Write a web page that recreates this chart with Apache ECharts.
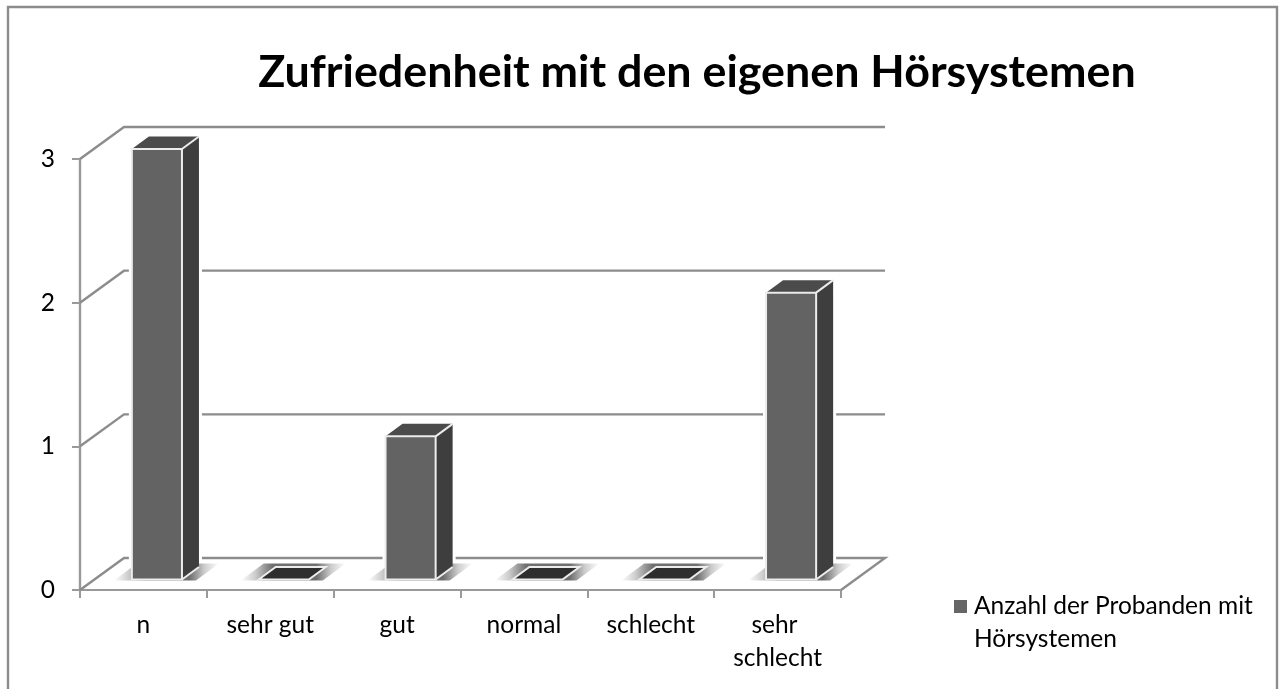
<!DOCTYPE html>
<html><head><meta charset="utf-8">
<style>html,body{margin:0;padding:0;background:#fff}#c{width:1280px;height:689px}</style>
<script src="https://cdn.jsdelivr.net/npm/echarts@6/dist/echarts.min.js"></script>
</head><body><div id="c"></div>
<script>
const chartTitle = 'Zufriedenheit mit den eigenen Hörsystemen';
const categories = ['n', 'sehr gut', 'gut', 'normal', 'schlecht', 'sehr schlecht'];
const seriesName = 'Anzahl der Probanden mit Hörsystemen';
const values = [3, 0, 1, 0, 0, 2];
const yTicks = [0, 1, 2, 3];

const FONT = 'Lato, Carlito, sans-serif';
const WALL_DX = 44, WALL_DY = -32;
const BAR_DX = 13.5, BAR_DY = -10.5, SIDE_DX = 17, SIDE_DY = -12.5;
const chart = echarts.init(document.getElementById('c'));

function renderWall(params, api) {
  const v = api.value(0);
  const cs = params.coordSys;
  const p = api.coord([0, v]);
  const x0 = cs.x, x1 = cs.x + cs.width, y = p[1];
  const style = { stroke: '#8c8c8c', lineWidth: 2.4, fill: null };
  const pts = [[x0, y], [x0 + WALL_DX, y + WALL_DY], [x1 + WALL_DX, y + WALL_DY]];
  if (v === 0) pts.push([x1, y]);
  return { type: 'polyline', shape: { points: pts }, style };
}

function renderBar(params, api) {
  const i = api.value(0), v = api.value(1);
  const base = api.coord([i, 0]);
  const top = api.coord([i, v]);
  const w = api.size([1, 0])[0] * 0.395;
  const xl = base[0] - w / 2 + BAR_DX, xr = xl + w;
  const yb = base[1] + BAR_DY;
  const yt = v > 0 ? top[1] + BAR_DY + 0.5 : yb;
  const children = [];
  const outline = [[xl, yb], [xl, yt], [xl + SIDE_DX, yt + SIDE_DY], [xr + SIDE_DX, yt + SIDE_DY], [xr + SIDE_DX, yb + SIDE_DY], [xr, yb]];
  // white halo that breaks the grid lines around the bar
  children.push({ type: 'polygon', shape: { points: outline }, style: { fill: '#fff', stroke: '#fff', lineWidth: 6 } });
  // floor shadow
  children.push({
    type: 'polygon',
    shape: { points: [[xl - 18, yb + 1], [xl + 5, yb - 16], [xr + 37, yb - 16], [xr + 14, yb + 1]] },
    style: { fill: { type: 'linear', x: 0, y: 0, x2: 1, y2: 0, colorStops: [
      { offset: 0, color: 'rgba(110,110,110,0)' }, { offset: 0.14, color: 'rgba(110,110,110,0.35)' }, { offset: 0.3, color: 'rgba(110,110,110,1)' },
      { offset: 0.72, color: 'rgba(110,110,110,1)' }, { offset: 0.86, color: 'rgba(110,110,110,0.35)' }, { offset: 1, color: 'rgba(110,110,110,0)' }] } }
  });
  const edge = { stroke: '#ececec', lineWidth: 2, lineJoin: 'miter' };
  if (v > 0) {
    children.push({ type: 'polygon', shape: { points: [[xr, yt], [xr + SIDE_DX, yt + SIDE_DY], [xr + SIDE_DX, yb + SIDE_DY], [xr, yb]] },
      style: { fill: '#3e3e3e' } });
    children.push({ type: 'polygon', shape: { points: [[xl, yt], [xl + SIDE_DX, yt + SIDE_DY], [xr + SIDE_DX, yt + SIDE_DY], [xr, yt]] },
      style: { fill: '#4b4b4b' } });
    children.push({ type: 'line', shape: { x1: xr, y1: yb, x2: xr + SIDE_DX, y2: yb + SIDE_DY }, style: edge });
    children.push({ type: 'line', shape: { x1: xr, y1: yt, x2: xr + SIDE_DX, y2: yt + SIDE_DY }, style: edge });
    children.push({ type: 'rect', shape: { x: xl, y: yt, width: w, height: yb - yt },
      style: Object.assign({ fill: '#636363' }, edge) });
  } else {
    children.push({ type: 'polygon', shape: { points: [[xl, yt], [xl + SIDE_DX, yt + SIDE_DY], [xr + SIDE_DX, yt + SIDE_DY], [xr, yt]] },
      style: Object.assign({ fill: '#2e2e2e' }, edge) });
  }
  return { type: 'group', children };
}

chart.setOption({
  backgroundColor: '#fff',
  animation: false,
  title: { text: chartTitle, left: 692, top: 45, textAlign: 'center',
    textStyle: { fontFamily: FONT, fontWeight: 'bold', fontSize: 44.8, color: '#000' } },
  legend: { data: [{ name: seriesName, icon: 'path://M0 0H13V13H0Z M0 46L0 46Z', itemStyle: { color: '#666666' } }],
    left: 949, top: 585, itemWidth: 13, itemHeight: 46, itemGap: 0,
    formatter: () => 'Anzahl der Probanden mit\nHörsystemen',
    textStyle: { fontFamily: FONT, fontSize: 24.5, color: '#000', lineHeight: 33, padding: [0, 0, 0, 2] } },
  grid: { left: 80, top: 159, right: 439, bottom: 99 },
  xAxis: { type: 'category', data: categories, boundaryGap: true,
    axisLine: { lineStyle: { color: '#999', width: 2 } },
    axisTick: { show: true, alignWithLabel: false, length: 8, lineStyle: { color: '#999', width: 2 } },
    axisLabel: { fontFamily: FONT, fontSize: 24.5, color: '#000', margin: 19, width: 110, overflow: 'break', lineHeight: 33, interval: 0 } },
  yAxis: { type: 'value', min: 0, max: 3, interval: 1, splitLine: { show: false },
    axisLine: { show: true, lineStyle: { color: '#999', width: 2.4 } },
    axisTick: { show: true, length: 8, lineStyle: { color: '#999', width: 2 } },
    axisLabel: { fontFamily: FONT, fontSize: 24.5, color: '#000', margin: 25, padding: [6, 0, 0, 0] } },
  graphic: [{ type: 'polyline', silent: true, z: -1,
    shape: { points: [[8, 689], [8, 7], [1277, 7], [1277, 689]] },
    style: { stroke: '#8c8c8c', lineWidth: 2.4, fill: null } }],
  series: [
    { type: 'custom', name: 'wall', data: yTicks.map(v => [v]), renderItem: renderWall, silent: true, z: 1,
      encode: { y: 0 } },
    { type: 'custom', name: seriesName, data: values.map((v, i) => [i, v]), renderItem: renderBar, z: 2,
      encode: { x: 0, y: 1 }, itemStyle: { color: '#666666' } }
  ]
});
</script></body></html>
